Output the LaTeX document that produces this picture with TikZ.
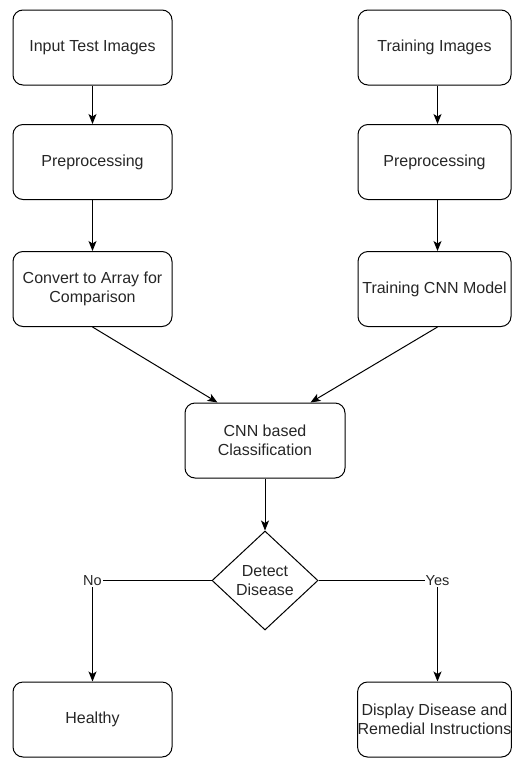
\documentclass[tikz,border=0pt]{standalone}
\usepackage{fontspec}
\setmainfont{Liberation Sans}
\usetikzlibrary{shapes.geometric,arrows.meta}
\begin{document}
\begin{tikzpicture}[x=1pt,y=-1pt,
  box/.style={draw, line width=1pt, rounded corners=10pt, minimum height=75pt, inner sep=0pt,
    align=center, text=black!85, font=\fontsize{16}{19.5}\selectfont},
  lbox/.style={box, minimum width=159pt},
  rbox/.style={box, minimum width=153pt},
  dec/.style={draw, line width=1pt, diamond, minimum width=106pt, minimum height=99pt, inner sep=0pt,
    align=center, text=black!85, font=\fontsize{16}{18.5}\selectfont},
  arr/.style={line width=1pt, -{Stealth[length=10pt,width=8pt,inset=2.5pt]}},
  lab/.style={fill=white, inner sep=1pt, text=black!85, font=\fontsize{14.5}{17}\selectfont}]
\useasboundingbox (0,0) rectangle (512,758);
\node[lbox] (a1) at (92.5,47.5) {Input Test Images};
\node[lbox] (a2) at (92.5,162) {Preprocessing};
\node[lbox] (a3) at (92.5,289) {Convert to Array for\\Comparison};
\node[rbox] (b1) at (434.5,47.5) {Training Images};
\node[rbox] (b2) at (434.5,162) {Preprocessing};
\node[rbox] (b3) at (434.5,289) {Training CNN Model};
\node[box, minimum width=160pt] (cnn) at (265,440.5) {CNN based\\Classification};
\node[dec] (dd) at (265,580.5) {Detect\\Disease};
\node[lbox] (h) at (92.5,719.5) {Healthy};
\node[rbox] (r) at (434.5,719.5) {Display Disease and\\Remedial Instructions};
\draw[arr] (a1.south) -- (a2.north);
\draw[arr] (a2.south) -- (a3.north);
\draw[arr] ([xshift=3pt]b1.south) -- ([xshift=3pt]b2.north);
\draw[arr] ([xshift=3pt]b2.south) -- ([xshift=3pt]b3.north);
\draw[arr] (a3.south) -- ([xshift=33pt]cnn.north west);
\draw[arr] ([xshift=3pt]b3.south) -- ([xshift=-35pt]cnn.north east);
\draw[arr] (cnn.south) -- (dd.north);
\draw[arr] (dd.west) -| node[lab, pos=0.5] {No} (h.north);
\draw[arr] (dd.east) -| node[lab, pos=0.5] {Yes} ([xshift=3pt]r.north);
\end{tikzpicture}
\end{document}
